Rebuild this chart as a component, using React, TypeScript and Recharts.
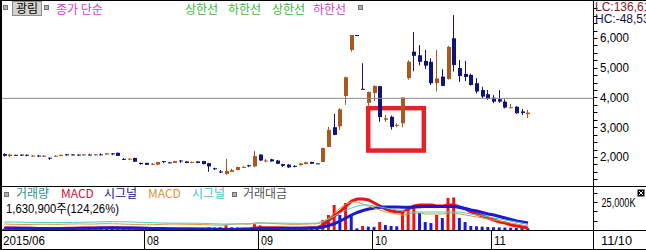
import React from "react";
import { ComposedChart, Bar, Line, XAxis, YAxis, ReferenceLine, ReferenceArea, Cell } from "recharts";

// daily candles, 광림 2015/06 ~ 2015/11 (won)
const open = [
  2100, 2030, 2070, 2080, 2075, 2040, 2045, 2035, 1975, 2010,
  2030, 2090, 2085, 2080, 2050, 2080, 2060, 2085, 2080, 2120,
  2140, 1935, 1925, 1965, 1800, 1800, 1735, 1740, 1860, 1820,
  1800, 1880, 1850, 1815, 1850, 1860, 1790, 1620, 1510, 1430,
  1500, 1560, 1650, 1720, 1680, 2080, 1860, 1920, 1880, 1760,
  1740, 1700, 1720, 1760, 1830, 1785, 1830, 2340, 3000, 3030,
  4050, 5600, 6100, 4290, 3820, 4150, 4380, 3250, 3350, 3050,
  3130, 4650, 5540, 5420, 5230, 5200, 4480, 4700, 4620, 5990,
  4990, 4790, 4760, 4480, 4250, 4110, 3990, 3940, 3860, 3650,
  3690, 3530, 3440,
];
const high = [
  2120, 2110, 2075, 2085, 2080, 2070, 2070, 2065, 1980, 2060,
  2075, 2095, 2090, 2085, 2090, 2110, 2100, 2120, 2130, 2125,
  2145, 1965, 1960, 1975, 1810, 1805, 1790, 1835, 1865, 1825,
  1870, 1890, 1855, 1855, 1855, 1870, 1800, 1640, 1560, 1930,
  1600, 1680, 1690, 1735, 2200, 2090, 1940, 1940, 1900, 1770,
  1760, 1720, 1800, 1840, 1840, 1790, 2310, 3010, 3445, 3640,
  4700, 6100, 6100, 5150, 4200, 4400, 4390, 3420, 3390, 3130,
  4005, 5250, 6200, 5760, 5600, 5320, 5600, 4950, 5730, 6770,
  5260, 5230, 4800, 4650, 4360, 4250, 4080, 4250, 3940, 3780,
  3700, 3610, 3580,
];
const low = [
  2010, 2000, 2050, 2030, 2020, 2010, 2015, 2010, 1900, 2005,
  2025, 2045, 2050, 2040, 2045, 2070, 2050, 2060, 2075, 2060,
  2030, 1900, 1920, 1830, 1740, 1730, 1730, 1735, 1790, 1780,
  1795, 1800, 1790, 1800, 1790, 1750, 1500, 1560, 1460, 1400,
  1490, 1550, 1630, 1660, 1660, 1870, 1820, 1840, 1760, 1660,
  1630, 1650, 1715, 1750, 1760, 1770, 1820, 2330, 2730, 2900,
  3750, 5540, 6090, 4270, 3700, 3880, 3180, 3180, 2920, 3000,
  3000, 4600, 4880, 5080, 4960, 4420, 4200, 4380, 4600, 4870,
  4520, 4550, 4400, 4130, 3970, 3920, 3810, 3820, 3630, 3640,
  3450, 3410, 3310,
];
const close = [
  2040, 2080, 2055, 2055, 2050, 2045, 2040, 2040, 1970, 2040,
  2070, 2060, 2060, 2050, 2085, 2075, 2090, 2080, 2120, 2110,
  2035, 1930, 1940, 1840, 1760, 1735, 1770, 1830, 1850, 1810,
  1860, 1875, 1800, 1825, 1800, 1760, 1680, 1600, 1495, 1530,
  1560, 1660, 1665, 1710, 2030, 1880, 1880, 1850, 1770, 1700,
  1650, 1690, 1780, 1820, 1770, 1780, 2300, 2910, 2740, 3600,
  4680, 6100, 6095, 4270, 4180, 4390, 3340, 3300, 3010, 3080,
  4000, 5200, 5400, 5200, 5070, 4480, 4640, 4390, 5700, 5090,
  4720, 4690, 4420, 4200, 4030, 3950, 3860, 3860, 3660, 3670,
  3470, 3480, 3490,
];
// 거래량 (천주)
const volume = [
  1200, 900, 700, 800, 600, 500, 600, 500, 900, 1100,
  1300, 800, 700, 900, 1000, 800, 1200, 900, 1400, 1000,
  1500, 1100, 900, 1400, 2000, 1500, 1200, 1600, 1000, 900,
  1300, 1100, 900, 800, 1000, 1200, 2500, 2200, 2600, 4200,
  2500, 2300, 1500, 1800, 5200, 4000, 2200, 1800, 2000, 2100,
  1900, 1400, 1600, 1800, 1300, 900, 9000, 13400, 22300, 13400,
  24100, 12500, 1500, 3600, 3000, 2800, 7100, 4500, 3600, 3300,
  16000, 20500, 22300, 15200, 7100, 6200, 13400, 10700, 28600, 29000,
  10700, 7100, 3600, 3300, 3000, 2700, 2500, 2300, 2200, 2000,
  1900, 1750, 1631,
];
const macd = [
  -60, -60, -62, -64, -66, -68, -70, -70, -72, -70, -68, -66, -64, -64, -62, -60, -58, -56, -54, -52, -54,
  -58, -62, -66, -70, -76, -80, -82, -84, -84, -84, -82, -82, -82, -84, -86, -90, -94, -98, -94, -90,
  -86, -82, -80, -60, -56, -54, -54, -56, -60, -64, -66, -64, -60, -56, -54,
  0, 100, 180, 270, 380, 480, 520, 520, 500, 440, 380, 320, 280, 260, 260, 320, 380, 400, 400, 400,
  380, 380, 400, 400, 360, 320, 260, 220, 180, 140, 100, 60, 40, 0, -20, -40, -60,
];
const signal = [
  -66, -66, -66, -66, -66, -66, -68, -68, -68, -68, -68, -68, -68, -66, -66, -66, -64, -62, -60, -60, -58,
  -58, -60, -60, -62, -64, -68, -70, -72, -74, -76, -78, -78, -78, -80, -80, -82, -84, -86, -88, -88,
  -88, -86, -84, -80, -76, -72, -70, -68, -66, -66, -66, -66, -64, -62, -60,
  -40, -10, 30, 80, 140, 200, 250, 290, 320, 340, 355, 360, 360, 360, 355, 355, 360, 365, 370, 370,
  370, 370, 370, 370, 350, 330, 300, 280, 250, 220, 200, 170, 140, 110, 80, 60, 40,
];
const macd2 = [
  20, 16, 12, 10, 10, 12, 14, 16, 14, 12, 14, 18, 20, 22, 20, 18, 20, 24, 26, 24, 22,
  18, 14, 10, 6, 4, 6, 10, 14, 16, 18, 16, 14, 12, 10, 8, 4, 0, -4, 6, 14,
  20, 18, 16, 40, 44, 38, 30, 24, 18, 14, 12, 14, 18, 20, 24,
  60, 140, 240, 340, 420, 460, 460, 420, 380, 340, 300, 260, 240, 220, 200, 220, 240, 240, 220, 220,
  220, 220, 240, 240, 220, 200, 180, 160, 140, 120, 100, 80, 60, 40, 20, 0, -20,
];
const signal2 = [
  60, 60, 58, 56, 54, 52, 50, 50, 48, 48, 48, 50, 52, 54, 56, 58, 60, 62, 64, 66, 66,
  64, 62, 58, 54, 50, 46, 42, 40, 38, 38, 38, 38, 36, 34, 32, 28, 24, 20, 20, 22,
  24, 26, 28, 34, 38, 40, 40, 40, 38, 36, 34, 34, 34, 36, 38,
  80, 120, 180, 240, 300, 340, 380, 400, 400, 380, 360, 340, 320, 300, 280, 260, 260, 260, 260, 260,
  260, 260, 260, 260, 260, 240, 220, 200, 180, 160, 140, 120, 100, 80, 60, 40, 20,
];

const monthStarts = [0, 25, 45, 65, 86];
const monthLabels = ["2015/06", "08", "09", "10", "11"];
const priceTicks = [2000, 3000, 4000, 5000, 6000];
const priceTickLabels = ["2,000", "3,000", "4,000", "5,000", "6,000"];

const SLOTS = 104; // 93 days + empty space on the right
const W = 646;
const PLOT_L = 1.5;
const AXIS_W = 52.5;
const BW = (W - PLOT_L - AXIS_W) / SLOTS;

const UP = "#A9581F";
const DOWN = "#12137A";
const VOL_UP = "#EE1111";
const VOL_DOWN = "#1A1AD6";
const KFONT = "'Noto Sans CJK KR', sans-serif";
const NFONT = "'Liberation Sans', Arial, sans-serif";

const rows: any[] = Array.from({ length: SLOTS }, (_, i) =>
  i < open.length
    ? {
        i,
        o: open[i],
        h: high[i],
        l: low[i],
        c: close[i],
        range: [low[i], high[i]],
        vol: volume[i],
        macd: macd[i],
        sig: signal[i],
        macd2: macd2[i],
        sig2: signal2[i],
      }
    : { i }
);

const minorTicks = Array.from({ length: 24 }, (_, k) => 1250 + k * 250);
const volTicks = [8333, 16667, 25000, 33333];

const Candle = (props: any) => {
  const { x, y, width, height, payload } = props;
  if (!payload || payload.o == null) return <g />;
  const { o, h, l, c } = payload;
  const color = c >= o ? UP : DOWN;
  const span = h - l;
  const py = (p: number) => (span === 0 ? y : y + ((h - p) / span) * height);
  const top = py(Math.max(o, c));
  const bot = py(Math.min(o, c));
  const bx = Math.round(x + width / 2 - 2);
  return (
    <g>
      <line x1={bx + 1.5} x2={bx + 1.5} y1={y} y2={y + height} stroke={color} strokeWidth={1} />
      <rect x={bx} y={top} width={4} height={Math.max(1, bot - top)} fill={color} />
    </g>
  );
};

const PriceTick = ({ x, y, payload }: any) => {
  const v = payload.value;
  const k = priceTicks.indexOf(v);
  const yy = Math.round(y) + 0.5;
  return (
    <g>
      <line x1={x} x2={x + 4} y1={yy} y2={yy} stroke="#000" />
      {k >= 0 && (
        <text x={x + 6.5} y={y + 4.5} fontSize={12} fontFamily={NFONT} fill="#000" textLength={29} lengthAdjust="spacingAndGlyphs">
          {priceTickLabels[k]}
        </text>
      )}
    </g>
  );
};

const VolTick = ({ x, y, payload }: any) => {
  const yy = Math.round(y) + 0.5;
  return (
    <g>
      <line x1={x} x2={x + 4} y1={yy} y2={yy} stroke="#000" />
      {payload.value === 25000 && (
        <text x={x + 8} y={y + 5} fontSize={13} fontFamily={NFONT} fill="#000" textLength={34} lengthAdjust="spacingAndGlyphs">
          25,000K
        </text>
      )}
    </g>
  );
};

const DateTick = ({ x, payload }: any) => {
  const k = monthStarts.indexOf(payload.value);
  if (k < 0) return <g />;
  const left = Math.round(x - BW / 2) + 0.5;
  const label = monthLabels[k];
  return (
    <g>
      {k > 0 && <line x1={left} x2={left} y1={44} y2={64} stroke="#000" />}
      <text
        x={k === 0 ? 3 : left + 2.5}
        y={59}
        fontSize={13}
        fontFamily={NFONT}
        fill="#000"
        textLength={label.length * 6}
        lengthAdjust="spacingAndGlyphs"
      >
        {label}
      </text>
    </g>
  );
};

const Square = ({ x, y }: { x: number; y: number }) => (
  <rect x={x + 0.5} y={y + 0.5} width={4} height={4} fill="#B0B0B0" stroke="#707070" strokeWidth={1} />
);

export default function App() {
  return (
    <div style={{ position: "absolute", left: 0, top: 0, width: W, height: 250, background: "#fff", overflow: "hidden" }}>
      <div style={{ position: "absolute", left: 0, top: 0 }}>
        <ComposedChart width={W} height={186} data={rows} margin={{ top: 2, right: 0, bottom: 2, left: PLOT_L }}>
          <XAxis dataKey="i" hide />
          <YAxis
            orientation="right"
            width={AXIS_W}
            type="number"
            domain={[1090, 7210]}
            allowDataOverflow
            ticks={minorTicks}
            interval={0}
            tick={<PriceTick />}
            axisLine={false}
            tickLine={false}
            tickSize={0}
            tickMargin={0}
          />
          <ReferenceLine y={3970} stroke="#8A8A8A" strokeWidth={1} />
          <Bar dataKey="range" shape={<Candle />} isAnimationActive={false} />
          <ReferenceArea
            x1={64}
            x2={73}
            y1={3640}
            y2={2215}
            shape={(p: any) => (
              <rect x={p.x + 2.4} y={p.y} width={p.width - 1.3} height={p.height} fill="none" stroke="#E8202A" strokeWidth={4.5} />
            )}
          />
        </ComposedChart>
      </div>
      <div style={{ position: "absolute", left: 0, top: 186 }}>
        <ComposedChart width={W} height={64} data={rows} margin={{ top: 1, right: 0, bottom: 0, left: PLOT_L }}>
          <XAxis
            dataKey="i"
            height={20}
            interval={0}
            tick={<DateTick />}
            axisLine={false}
            tickLine={false}
            tickSize={0}
            tickMargin={0}
          />
          <YAxis
            yAxisId="v"
            orientation="right"
            width={AXIS_W}
            type="number"
            domain={[0, 38393]}
            allowDataOverflow
            ticks={volTicks}
            interval={0}
            tick={<VolTick />}
            axisLine={false}
            tickLine={false}
            tickSize={0}
            tickMargin={0}
          />
          <YAxis yAxisId="m" hide type="number" domain={[-100, 760]} allowDataOverflow />
          <Bar yAxisId="v" dataKey="vol" barSize={3} isAnimationActive={false}>
            {rows.map((r, i) => (
              <Cell key={i} fill={i > 0 && r.vol > rows[i - 1].vol ? VOL_UP : VOL_DOWN} />
            ))}
          </Bar>
          <Line yAxisId="m" type="linear" dataKey="macd" stroke="#EE1111" strokeWidth={3} dot={false} isAnimationActive={false} />
          <Line yAxisId="m" type="linear" dataKey="sig" stroke="#1A1AD6" strokeWidth={3} dot={false} isAnimationActive={false} />
          <Line yAxisId="m" type="linear" dataKey="macd2" stroke="#E0953A" strokeWidth={1} dot={false} isAnimationActive={false} />
          <Line yAxisId="m" type="linear" dataKey="sig2" stroke="#44CCCC" strokeWidth={1} dot={false} isAnimationActive={false} />
        </ComposedChart>
      </div>
      <svg width={W} height={250} style={{ position: "absolute", left: 0, top: 0, pointerEvents: "none" }}>
        {/* frame */}
        <rect x={0} y={0} width={W} height={1} fill="#000" />
        <rect x={0} y={0} width={2} height={250} fill="#000" />
        <rect x={0} y={186} width={W} height={1} fill="#000" />
        <rect x={0} y={230} width={W} height={1} fill="#000" />
        <rect x={0} y={249} width={W} height={1} fill="#000" />
        <rect x={593} y={0} width={1} height={250} fill="#000" />

        {/* price legend */}
        <Square x={3} y={5} />
        <rect x={12.5} y={1.5} width={29} height={14} fill="#D6D3CE" stroke="#8C8C8C" />
        <text x={16} y={13} fontSize={12} fontFamily={KFONT} fill="#000">광림</text>
        <Square x={44} y={5} />
        <text x={56} y={13.5} fontSize={12} fontFamily={KFONT} fill="#CC44CC">종가 단순</text>
        <text x={185} y={13.5} fontSize={12} fontFamily={KFONT} fill="#33BB33">상한선</text>
        <text x={228} y={13.5} fontSize={12} fontFamily={KFONT} fill="#33BB33">하한선</text>
        <text x={272} y={13.5} fontSize={12} fontFamily={KFONT} fill="#33BB33">상한선</text>
        <text x={313} y={13.5} fontSize={12} fontFamily={KFONT} fill="#CC44CC">하한선</text>
        <Square x={358} y={5} />

        <text x={595} y={11} fontSize={12} fontFamily={NFONT} fill="#8B1A1A">LC:136,61</text>
        <text x={595} y={23} fontSize={12} fontFamily={NFONT} fill="#10104A">HC:-48,53</text>

        {/* volume legend */}
        <Square x={4} y={192} />
        <text x={16} y={198} fontSize={12} fontFamily={KFONT} fill="#2F8F8F">거래량</text>
        <text x={61} y={198} fontSize={12} fontFamily={KFONT} fill="#D0103A">MACD</text>
        <text x={104} y={198} fontSize={12} fontFamily={KFONT} fill="#101080">시그널</text>
        <text x={148} y={198} fontSize={12} fontFamily={KFONT} fill="#D9953A">MACD</text>
        <text x={192} y={198} fontSize={12} fontFamily={KFONT} fill="#44C4C4">시그널</text>
        <Square x={232} y={192} />
        <text x={243} y={198} fontSize={12} fontFamily={KFONT} fill="#555">거래대금</text>
        <text
          x={6}
          y={212.5}
          fontSize={12}
          fontFamily={"'Liberation Sans', 'Noto Sans CJK KR', sans-serif"}
          fill="#000"
          textLength={113}
          lengthAdjust="spacingAndGlyphs"
        >
          1,630,900주(124,26%)
        </text>

        <rect x={637.5} y={189.5} width={7} height={7} fill="#000" />
        <path d="M639 191 L643 195 M643 191 L639 195" stroke="#fff" strokeWidth={1} />

        <text x={601} y={245} fontSize={13} fontFamily={NFONT} fill="#000" textLength={31} lengthAdjust="spacingAndGlyphs">11/10</text>
      </svg>
    </div>
  );
}
